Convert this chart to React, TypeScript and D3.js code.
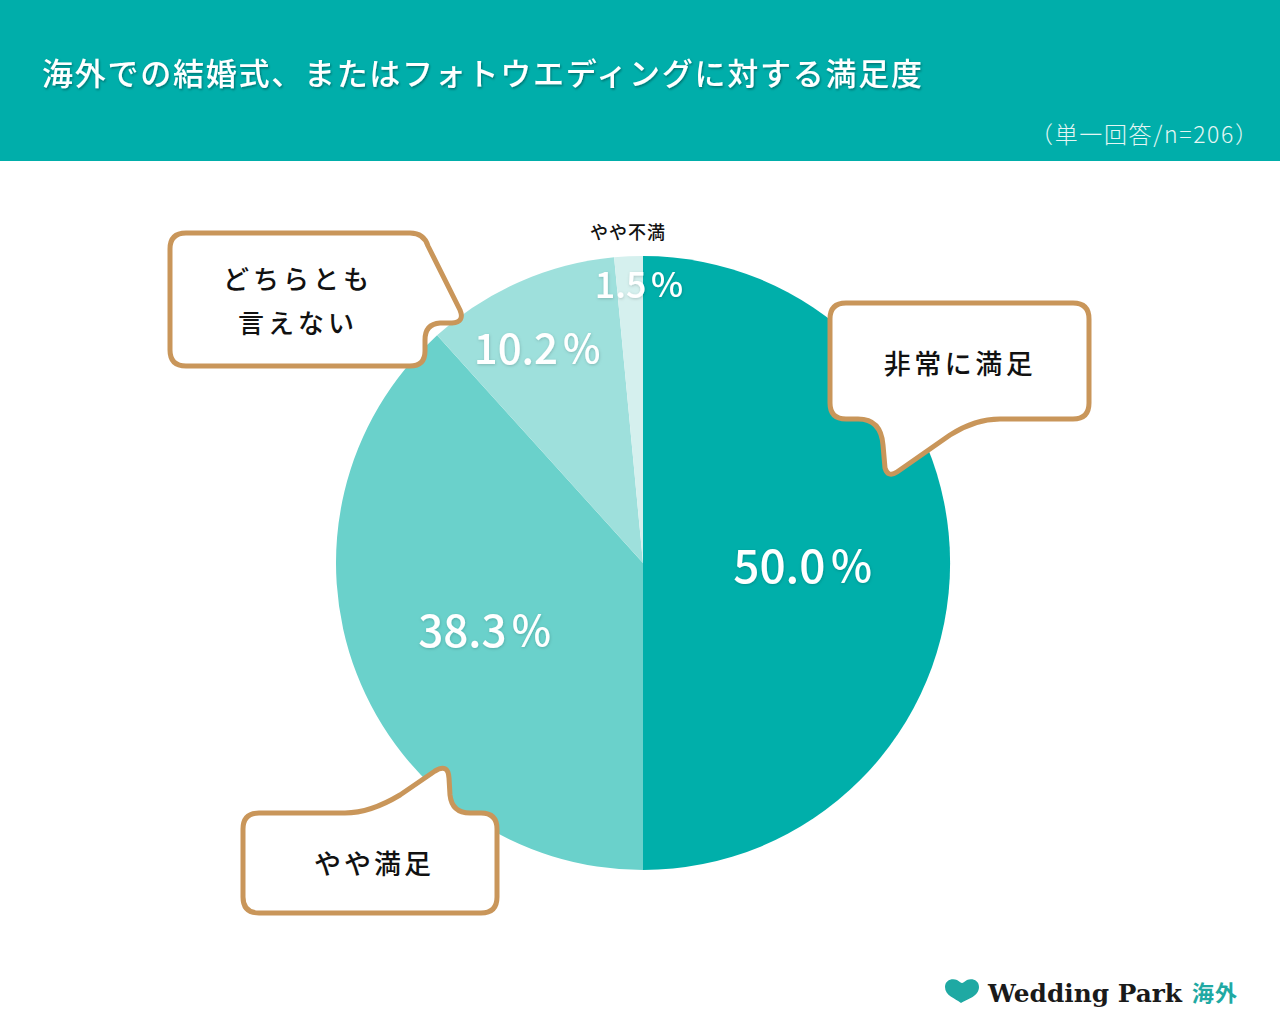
import React from "react";
import * as d3 from "d3";

const categories = ["非常に満足", "やや満足", "どちらとも言えない", "やや不満"];
const values = [50.0, 38.3, 10.2, 1.5];
const sliceColors = ["#00AFAA", "#6AD1CB", "#9EE0DC", "#D5F0EE"];
const labelRadiusFactor = [0.52, 0.56, 0.775, 0.905];
const labelNudgeX = [0, 2, -10, 9];
const labelNudgeY = [0, 3, 0, -3];
const labelFontSize = [46, 44, 42, 36];

const title = "海外での結婚式、またはフォトウエディングに対する満足度";
const subtitle = "（単一回答/n=206）";

const W = 1280;
const H = 1028;
const cx = 643;
const cy = 563;
const R = 307;
const stroke = "#C9965A";

export default function App() {
  const pie = d3.pie<number>().sort(null).value((d) => d)(values);
  const arc = d3.arc<d3.PieArcDatum<number>>().innerRadius(0).outerRadius(R);

  const jp = "'Noto Sans CJK JP', 'Noto Sans', sans-serif";

  return (
    <svg width={W} height={H} viewBox={`0 0 ${W} ${H}`} style={{ display: "block", position: "absolute", left: 0, top: 0 }}>
      <defs>
        <filter id="ts" x="-10%" y="-30%" width="120%" height="160%">
          <feDropShadow dx="1" dy="1.5" stdDeviation="1.2" floodColor="#000" floodOpacity="0.35" />
        </filter>
        <filter id="ls" x="-10%" y="-30%" width="120%" height="160%">
          <feDropShadow dx="0.5" dy="1" stdDeviation="1.5" floodColor="#000" floodOpacity="0.18" />
        </filter>
      </defs>
      <rect x={0} y={0} width={W} height={H} fill="#ffffff" />
      <rect x={0} y={0} width={W} height={161} fill="#00AEAA" />
      <text x={42} y={85} fill="#ffffff" fontFamily={jp} fontSize={31} fontWeight={500}
        textLength={880} lengthAdjust="spacing" filter="url(#ts)">{title}</text>
      <text x={1030} y={143} fill="#E4F6F4" fontFamily={jp} fontSize={23} fontWeight={300}
        textLength={228} lengthAdjust="spacing">{subtitle}</text>

      <g transform={`translate(${cx},${cy})`}>
        {pie.map((p, i) => (
          <path key={categories[i]} d={arc(p) || ""} fill={sliceColors[i]} />
        ))}
        {pie.map((p, i) => {
          const a = (p.startAngle + p.endAngle) / 2;
          const r = R * labelRadiusFactor[i];
          const x = Math.sin(a) * r + labelNudgeX[i];
          const y = -Math.cos(a) * r + labelNudgeY[i];
          const fs = labelFontSize[i];
          return (
            <text key={"l" + i} x={x} y={y} textAnchor="middle" dominantBaseline="central"
              fill="#ffffff" fontFamily={jp} fontSize={fs} fontWeight={500} filter="url(#ls)">
              {values[i].toFixed(1)}
              <tspan dx={fs * 0.12} fontSize={fs * 0.95}>%</tspan>
            </text>
          );
        })}
      </g>

      <text x={628} y={231} textAnchor="middle" dominantBaseline="central" fontFamily={jp}
        fontSize={18} fontWeight={500} fill="#111" letterSpacing={1}>{categories[3]}</text>

      {/* callout: 非常に満足 */}
      <path d="M 846 303 H 1073 Q 1089 303 1089 319 V 403 Q 1089 419 1073 419 H 1000 Q 975 419 950 435 L 897 472 Q 888 478 885 468 L 883 445 Q 881 419 858 419 H 846 Q 830 419 830 403 V 319 Q 830 303 846 303 Z"
        fill="#ffffff" stroke={stroke} strokeWidth={5} strokeLinejoin="round" />
      <text x={960} y={362} textAnchor="middle" dominantBaseline="central" fontFamily={jp}
        fontSize={27} fontWeight={500} fill="#111" letterSpacing={3.5}>{categories[0]}</text>

      {/* callout: どちらとも言えない */}
      <path d="M 186 233 H 410 Q 424 233 428 246 L 460 310 Q 465 322 452 323 H 440 Q 425 324 425 340 V 351 Q 425 366 410 366 H 186 Q 170 366 170 350 V 249 Q 170 233 186 233 Z"
        fill="#ffffff" stroke={stroke} strokeWidth={5} strokeLinejoin="round" />
      <text x={298} y={277} textAnchor="middle" dominantBaseline="central" fontFamily={jp}
        fontSize={26} fontWeight={500} fill="#111" letterSpacing={4}>どちらとも</text>
      <text x={298} y={321} textAnchor="middle" dominantBaseline="central" fontFamily={jp}
        fontSize={26} fontWeight={500} fill="#111" letterSpacing={4}>言えない</text>

      {/* callout: やや満足 */}
      <path d="M 259 813 H 345 Q 370 813 400 795 L 435 771 Q 448 763 449 778 L 450 795 Q 452 813 470 813 H 481 Q 497 813 497 829 V 897 Q 497 913 481 913 H 259 Q 243 913 243 897 V 829 Q 243 813 259 813 Z"
        fill="#ffffff" stroke={stroke} strokeWidth={5} strokeLinejoin="round" />
      <text x={374} y={862} textAnchor="middle" dominantBaseline="central" fontFamily={jp}
        fontSize={27} fontWeight={500} fill="#111" letterSpacing={3}>{categories[1]}</text>

      {/* logo */}
      <path d="M 961 1003 C 955 998 945 996 945 987 C 945 980 952 978 957 980 C 959 981 961 983 962 983 C 963 983 965 981 967 980 C 972 978 979 980 979 987 C 979 996 968 999 961 1003 Z"
        fill="#1FA9A3" />
      <text x={988} y={1002} fontFamily="'DejaVu Serif', serif" fontWeight={700} fontSize={25}
        fill="#1a1a1a" textLength={194} lengthAdjust="spacingAndGlyphs">Wedding Park</text>
      <text x={1192} y={1001} fontFamily={jp} fontWeight={700} fontSize={22} fill="#1FA9A3"
        letterSpacing={1}>海外</text>
    </svg>
  );
}
